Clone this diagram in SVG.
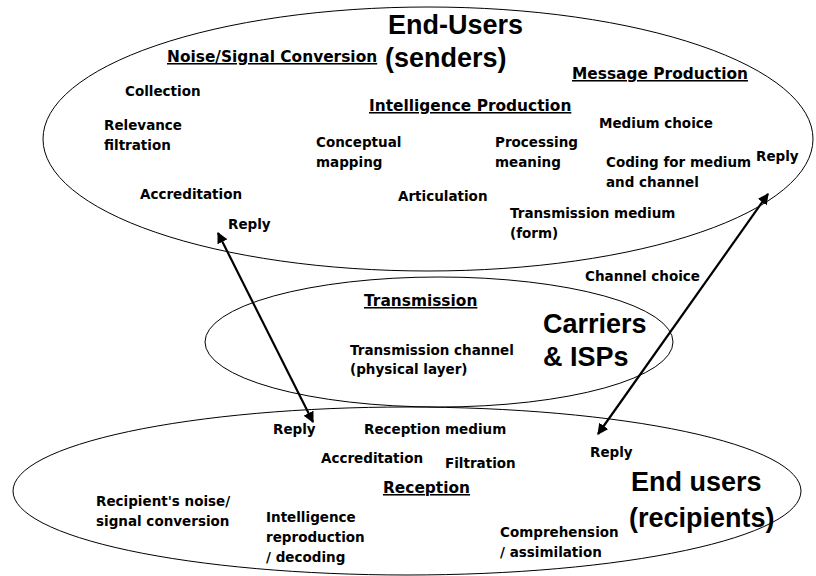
<svg xmlns="http://www.w3.org/2000/svg" width="816" height="576" viewBox="0 0 816 576">
<defs>
<style>
.t{font-family:"DejaVu Sans","Liberation Sans",sans-serif;font-weight:bold;font-size:13.5px;fill:#000}
.h{font-family:"DejaVu Sans","Liberation Sans",sans-serif;font-weight:bold;font-size:15.4px;fill:#000;text-decoration:underline}
.b{font-family:"Liberation Sans",Arial,sans-serif;font-weight:bold;font-size:27px;fill:#000}
.e{fill:none;stroke:#000;stroke-width:1}
.a{stroke:#000;stroke-width:2.2;fill:none;marker-start:url(#ah);marker-end:url(#ah)}
</style>
<marker id="ah" viewBox="0 0 10 10" refX="9" refY="5" markerWidth="5" markerHeight="5" orient="auto-start-reverse" markerUnits="strokeWidth">
<path d="M0,0 L10,5 L0,10 z" fill="#000"/>
</marker>
</defs>
<rect width="816" height="576" fill="#fff"/>
<g id="senders">
<ellipse class="e" cx="428" cy="139" rx="385" ry="132"/>
<text class="b" x="388" y="34">End-Users</text>
<text class="b" x="385" y="67">(senders)</text>
<text class="h" x="167" y="62">Noise/Signal Conversion</text>
<text class="t" x="125" y="96">Collection</text>
<text class="t" x="104" y="130">Relevance</text>
<text class="t" x="104" y="150">filtration</text>
<text class="t" x="140" y="199">Accreditation</text>
<text class="t" x="228" y="229">Reply</text>
<text class="h" x="369" y="111">Intelligence Production</text>
<text class="t" x="316" y="147">Conceptual</text>
<text class="t" x="316" y="167">mapping</text>
<text class="t" x="398" y="201">Articulation</text>
<text class="t" x="495" y="147">Processing</text>
<text class="t" x="495" y="167">meaning</text>
<text class="h" x="572" y="79">Message Production</text>
<text class="t" x="599" y="128">Medium choice</text>
<text class="t" x="606" y="167">Coding for medium</text>
<text class="t" x="606" y="187">and channel</text>
<text class="t" x="756" y="161">Reply</text>
<text class="t" x="510" y="218">Transmission medium</text>
<text class="t" x="510" y="238">(form)</text>
</g>
<g id="carriers">
<ellipse class="e" cx="439" cy="342" rx="234" ry="65"/>
<text class="t" x="585" y="281">Channel choice</text>
<text class="h" x="364" y="306">Transmission</text>
<text class="t" x="350" y="355">Transmission channel</text>
<text class="t" x="350" y="374">(physical layer)</text>
<text class="b" x="543" y="333">Carriers</text>
<text class="b" x="543" y="366">&amp; ISPs</text>
</g>
<g id="recipients">
<ellipse class="e" cx="407" cy="491" rx="394" ry="84"/>
<text class="t" x="273" y="434">Reply</text>
<text class="t" x="364" y="434">Reception medium</text>
<text class="t" x="321" y="463">Accreditation</text>
<text class="t" x="445" y="468">Filtration</text>
<text class="h" x="383" y="493">Reception</text>
<text class="t" x="590" y="457">Reply</text>
<text class="b" x="631" y="491">End users</text>
<text class="b" x="629" y="527">(recipients)</text>
<text class="t" x="96" y="506">Recipient's noise/</text>
<text class="t" x="96" y="526">signal conversion</text>
<text class="t" x="266" y="522">Intelligence</text>
<text class="t" x="266" y="542">reproduction</text>
<text class="t" x="266" y="562">/ decoding</text>
<text class="t" x="500" y="537">Comprehension</text>
<text class="t" x="500" y="557">/ assimilation</text>
</g>
<g id="connectors">
<line class="a" x1="218" y1="233" x2="313" y2="422"/>
<line class="a" x1="768" y1="194" x2="598" y2="434"/>
</g>
</svg>
